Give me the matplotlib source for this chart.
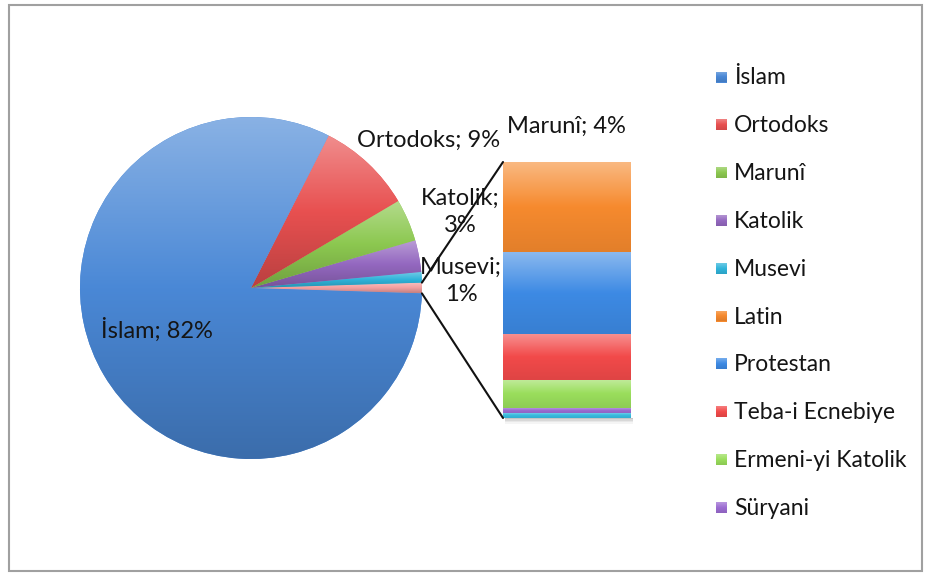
import numpy as np
import matplotlib.pyplot as plt
from matplotlib.colors import LinearSegmentedColormap, to_rgb
from matplotlib.patches import Rectangle, ConnectionPatch

plt.rcParams['font.family'] = ['Lato', 'DejaVu Sans']

# main pie (percent of total)
pie_labels = ['İslam', 'Ortodoks', 'Marunî', 'Katolik', 'Musevi', 'Diğer']
pie_values = [82, 9, 4, 3, 1, 1]
pie_colors = ['#4a88d6', '#e85050', '#8cc850', '#9468c0', '#30b4da', '#f4a0a0']

# secondary bar: breakdown of the small "other" slice (share within it)
bar_labels = ['Latin', 'Protestan', 'Teba-i Ecnebiye', 'Ermeni-yi Katolik', 'Süryani', 'Diğer']
bar_values = [35, 32, 18, 11, 2, 2]
bar_colors = ['#f68a2e', '#3d8ae4', '#f24a4a', '#9ade5c', '#9c6cd2', '#38bce0']

# which slices get a data label, and where (pixel coords, y up)
label_pos = {'İslam': (157, 245), 'Ortodoks': (429, 435), 'Marunî': (566, 449),
             'Katolik': (460, 363), 'Musevi': (461, 294)}
two_line = ['Katolik', 'Musevi']


def shade(ax, patch, color, light=0.35, dark=0.15, z=2):
    # vertical gradient fill clipped to the patch, light at top
    c = np.array(to_rgb(color))
    top = c + (1 - c) * light
    bot = c * (1 - dark)
    cmap = LinearSegmentedColormap.from_list('g', [bot, c, top])
    ext = patch.get_path().get_extents(patch.get_patch_transform())
    grad = np.linspace(0, 1, 256).reshape(-1, 1)
    im = ax.imshow(grad, extent=[ext.x0, ext.x1, ext.y0, ext.y1], origin='lower',
                   cmap=cmap, aspect='auto', zorder=z, interpolation='bicubic')
    im.set_clip_path(patch)


fig = plt.figure(figsize=(9.3, 5.75), dpi=100)
ax = fig.add_axes([0, 0, 1, 1])

# pie, "other" slice centred on the right, going counter-clockwise
cx, cy, r = 251, 287, 171
order = [5, 4, 3, 2, 1, 0]
vals = [pie_values[i] for i in order]
start = -pie_values[5] / sum(pie_values) * 180
wedges, _ = ax.pie(vals, colors=[pie_colors[i] for i in order], startangle=start,
                   counterclock=True, center=(cx, cy), radius=r, frame=True,
                   wedgeprops=dict(linewidth=0))
for w, i in zip(wedges, order):
    w.set_zorder(1)
    shade(ax, w, pie_colors[i], dark=0.2)

for i, name in enumerate(pie_labels):
    if name not in label_pos:
        continue
    sep = ';\n' if name in two_line else '; '
    x, y = label_pos[name]
    ax.text(x, y, f"{name}{sep}{pie_values[i]}%", ha='center', va='center',
            fontsize=17, color='#151515', linespacing=1.4, zorder=5)

# legend (first ten entries only, as in the original)
leg_names = pie_labels[:5] + bar_labels[:5]
leg_colors = pie_colors[:5] + bar_colors[:5]
for i, (n, c) in enumerate(zip(leg_names, leg_colors)):
    y = 575 - (77 + i * 47.8)
    sq = Rectangle((716, y - 5.5), 11, 11, facecolor=c, linewidth=0, zorder=1)
    ax.add_patch(sq)
    shade(ax, sq, c, light=0.3, dark=0.1)
    ax.text(734, y - 1, n, ha='left', va='center', fontsize=16.5, color='#151515')

# outer chart border
ax.add_patch(Rectangle((8.5, 4), 913, 566, fill=False, ec='#a0a0a0', lw=1.5, zorder=6))
# soft shadow under the bar
for k, a in enumerate([0.45, 0.3, 0.18, 0.08]):
    ax.add_patch(Rectangle((505, 575 - 419 - k * 1.5), 128, 1.5, facecolor='#808080',
                           alpha=a, lw=0, zorder=0))

ax.set_xlim(0, 930)
ax.set_ylim(0, 575)
ax.set_aspect('equal')
ax.axis('off')

# stacked bar of the other slice
total = sum(bar_values)
ax_bar = fig.add_axes([503 / 930, (575 - 418) / 575, 128 / 930, 256 / 575])
bottoms = total - np.cumsum(bar_values)
bars = ax_bar.bar(0.5, bar_values, width=1, bottom=bottoms, color=bar_colors, linewidth=0)
for b, c in zip(bars, bar_colors):
    shade(ax_bar, b, c, light=0.4, dark=0.08)
ax_bar.set_xlim(0, 1)
ax_bar.set_ylim(0, total)
ax_bar.axis('off')

# connector lines from the small slice to the bar corners
w0 = wedges[0]
for ang, yb in [(w0.theta2, total), (w0.theta1, 0)]:
    p = (cx + r * np.cos(np.radians(ang)), cy + r * np.sin(np.radians(ang)))
    con = ConnectionPatch(xyA=p, coordsA=ax.transData, xyB=(0, yb), coordsB=ax_bar.transData,
                          color='#111111', lw=1.5, zorder=7)
    fig.add_artist(con)

fig.savefig('out.png', dpi=100)
